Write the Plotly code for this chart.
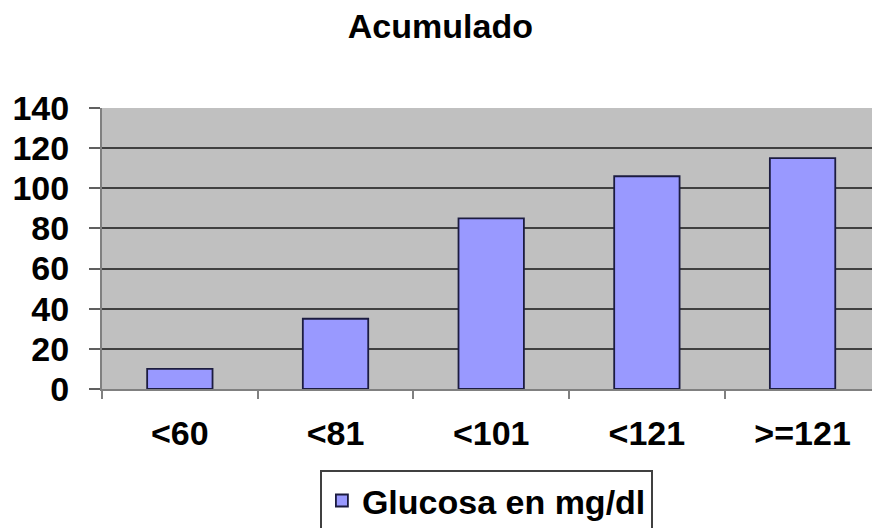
import plotly.graph_objects as go

# Cumulative glucose counts per range
categories = ["<60", "<81", "<101", "<121", ">=121"]
values = [10, 35, 85, 106, 115]
series_name = "Glucosa en mg/dl"
y_ticks = [0, 20, 40, 60, 80, 100, 120, 140]

FONT = "Liberation Sans, Arial, sans-serif"
TEXT_FONT = dict(family=FONT, size=34, color="black", weight="bold")

fig = go.Figure()
fig.add_trace(go.Bar(
    x=categories,
    y=values,
    name=series_name,
    marker=dict(color="#9999FF", line=dict(color="#1c1c40", width=1.8)),
    showlegend=True,
))

fig.update_layout(
    width=872,
    height=528,
    margin=dict(l=102, r=0, t=108, b=139),
    paper_bgcolor="white",
    plot_bgcolor="#C0C0C0",
    bargap=0.58,
    title=dict(
        text="Acumulado",
        x=0.505, xref="container", xanchor="center",
        y=0.951, yref="container", yanchor="middle",
        font=TEXT_FONT,
    ),
    font=dict(family=FONT, color="black"),
    showlegend=True,
    legend=dict(
        x=0.283, xref="paper", xanchor="left",
        y=0.11, yref="container", yanchor="top",
        bgcolor="white",
        bordercolor="#404040",
        borderwidth=2,
        font=TEXT_FONT,
    ),
)

fig.update_xaxes(
    type="category",
    range=[-0.5, 4.446],
    showgrid=False,
    showline=True,
    linecolor="#808080",
    linewidth=2,
    ticks="outside",
    tickson="boundaries",
    ticklen=8,
    tickwidth=2,
    tickcolor="#808080",
    tickfont=TEXT_FONT,
    ticklabelstandoff=13,
)

fig.update_yaxes(
    range=[0, 140],
    tickvals=y_ticks,
    showgrid=True,
    gridcolor="#404040",
    gridwidth=2,
    showline=True,
    linecolor="#808080",
    linewidth=2,
    ticks="outside",
    ticklen=11,
    tickwidth=2,
    tickcolor="#606060",
    tickfont=TEXT_FONT,
    ticklabelstandoff=13,
    zeroline=False,
)

fig.write_html("out.html")
